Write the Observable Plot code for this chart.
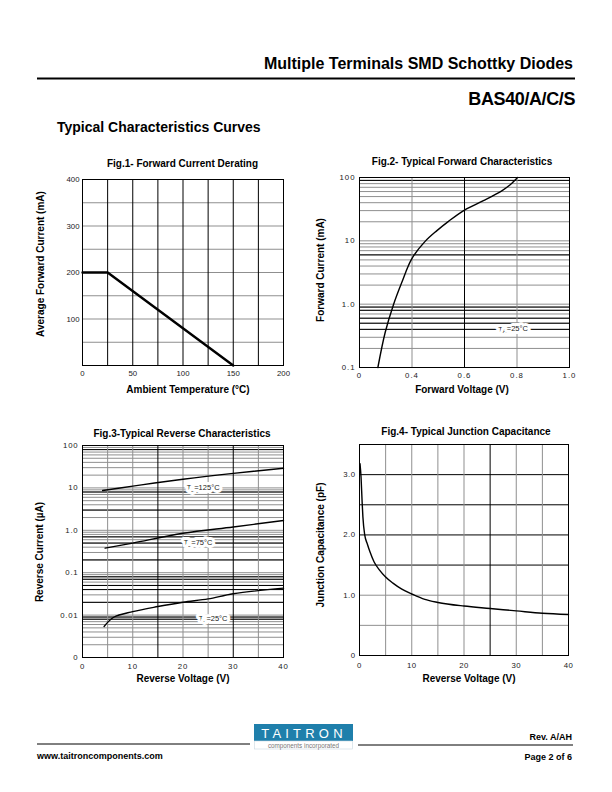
<!DOCTYPE html>
<html><head><meta charset="utf-8">
<script src="https://cdn.jsdelivr.net/npm/d3@7"></script>
<script src="https://cdn.jsdelivr.net/npm/@observablehq/plot@0.6"></script>
<style>
body{margin:0;background:#fff;}
#page{position:relative;width:612px;height:792px;overflow:hidden;background:#fff;font-family:"Liberation Sans",Arial,sans-serif;}
#page > svg{position:absolute;}
</style></head><body><div id="page"></div>
<script>
// ---------- Fig.1 Forward Current Derating ----------
const fig1Temp = [0, 25, 150];
const fig1Current = [200, 200, 0];
const fig1XTicks = [0, 50, 100, 150, 200];
const fig1YTicks = [100, 200, 300, 400];
const fig1VGrid = [25, 50, 75, 100, 125, 150, 175];
const fig1HGrid = [50, 100, 150, 200, 250, 300, 350];

// ---------- Fig.2 Typical Forward Characteristics ----------
const fig2Voltage = [0.270, 0.298, 0.330, 0.361, 0.399, 0.450, 0.495, 0.539, 0.600, 0.672, 0.742, 0.774, 0.802];
const fig2Current = [0.1, 0.36, 1.0, 2.2, 5.2, 9.8, 14.5, 20.3, 30.6, 43, 61.6, 76.7, 100];
const fig2XTicks = [0.2, 0.4, 0.6, 0.8, 1.0];
const fig2XLabels = ["0", "0.4", "0.6", "0.8", "1.0"];
const fig2YTicks = [0.1, 1, 10, 100];
const fig2YLabels = ["0.1", "1.0", "10", "100"];
const fig2VGridLight = [0.4, 0.8];
const fig2VGridDark = [0.6];
const fig2HGridDark = [90, 6, 0.9, 0.8, 0.6, 0.5, 0.4];
const fig2Notes = [{v: 0.785, i: 0.4, label: "TA=25°C"}];

// ---------- Fig.3 Typical Reverse Characteristics ----------
const fig3Voltage125 = [4, 10, 20, 30, 40];
const fig3Current125 = [8.7, 11, 16, 22, 29];
const fig3Voltage75 = [4.5, 10, 20, 30, 40];
const fig3Current75 = [0.38, 0.5, 0.85, 1.2, 1.7];
const fig3Voltage25 = [4.3, 6.2, 10, 15, 20, 25, 30, 40];
const fig3Current25 = [0.0054, 0.0089, 0.0121, 0.0159, 0.0201, 0.0241, 0.0318, 0.0433];
const fig3XTicks = [0, 10, 20, 30, 40];
const fig3YTicks = [0.001, 0.01, 0.1, 1, 10, 100];
const fig3YLabels = ["0", "0.01", "0.1", "1.0", "10", "100"];
const fig3VGridLight = [5, 10, 20, 25, 35];
const fig3VGridDark = [15, 30];
const fig3HGridDark = [80, 8, 3, 0.7, 0.5, 0.2, 0.08, 0.07, 0.05, 0.04, 0.02, 0.009, 0.008];
const fig3Notes = [
  {v: 24, i: 10, label: "TJ=125°C"},
  {v: 23, i: 0.5, label: "TJ=75°C"},
  {v: 26, i: 0.0082, label: "TJ=25°C"}
];

// ---------- Fig.4 Typical Junction Capacitance ----------
const fig4Voltage = [0.1, 0.3, 0.5, 0.65, 1.0, 1.5, 2.0, 2.8, 3.8, 4.9, 6.4, 8.1, 10, 12.5, 15, 20, 25, 30, 35, 40];
const fig4Cap = [3.18, 2.95, 2.55, 2.3, 2.0, 1.85, 1.72, 1.55, 1.42, 1.31, 1.2, 1.1, 1.02, 0.93, 0.88, 0.82, 0.78, 0.74, 0.70, 0.68];
const fig4XTicks = [0, 10, 20, 30, 40];
const fig4YTicks = [0, 1, 2, 3];
const fig4YLabels = ["0", "1.0", "2.0", "3.0"];
const fig4VGridLight = [5, 10, 15, 20, 30, 35];
const fig4VGridDark = [25];
const fig4HGridLight = [0.5, 1.0];
const fig4HGridDark = [1.5, 2.0, 2.5, 3.0];

// ---------- helpers ----------
const FONT = '"Liberation Sans", Arial, Helvetica, sans-serif';
const GRAY = "#8f8f8f";
const TICK = "#222";
const TS = 7.8; // tick label size
const page = document.getElementById("page");
const zip = (xs, ys) => xs.map((x, k) => ({x, y: ys[k]}));
const lab = (ticks, labels) => d => labels[ticks.indexOf(d)];

function place(svg, left, top) {
  svg.style.left = left + "px";
  svg.style.top = top + "px";
  page.appendChild(svg);
}
function subscripts(svg) {
  d3.select(svg).selectAll("text").each(function () {
    const m = this.textContent.match(/^T([AJ])(=.*)$/);
    if (!m) return;
    const s = d3.select(this);
    s.text(null);
    s.append("tspan").text("T");
    s.append("tspan").attr("font-size", 6).attr("dy", "0.2em").text(m[1]);
    s.append("tspan").attr("dy", "-0.2em").text(m[2]);
  });
}
function spaced(svg, ls) {
  d3.select(svg).selectAll("g[aria-label='x-axis tick label'] text, g[aria-label='y-axis tick label'] text")
    .attr("letter-spacing", ls);
}
const M = {marginLeft: 30, marginTop: 6, marginRight: 10, marginBottom: 20};
const style = {fontFamily: FONT, background: "none", overflow: "visible", color: "#000"};

// ---------- page decorations ----------
const deco = d3.create("svg").attr("width", 612).attr("height", 792).style("left", "0px").style("top", "0px");
function txt(x, y, s, o = {}) {
  const t = deco.append("text").attr("x", x).attr("y", y).text(s)
    .attr("font-family", FONT).attr("font-size", o.size || 10)
    .attr("font-weight", o.weight || "bold").attr("fill", o.fill || "#000")
    .attr("text-anchor", o.anchor || "middle");
  if (o.rotate) t.attr("transform", `rotate(-90 ${x} ${y})`);
  if (o.ls) t.attr("letter-spacing", o.ls);
  return t;
}
txt(573, 69, "Multiple Terminals SMD Schottky Diodes", {size: 16, anchor: "end"});
deco.append("line").attr("x1", 37).attr("x2", 575).attr("y1", 78.5).attr("y2", 78.5).attr("stroke", "#000").attr("stroke-width", 2.2);
txt(575, 105, "BAS40/A/C/S", {size: 18, anchor: "end", ls: -0.4});
txt(57, 132, "Typical Characteristics Curves", {size: 14, anchor: "start"});

// figure titles & axis labels
txt(182.5, 167, "Fig.1- Forward Current Derating");
txt(188, 392.5, "Ambient Temperature (°C)");
txt(43.5, 264, "Average Forward Current (mA)", {rotate: true});

txt(462, 165, "Fig.2- Typical Forward Characteristics");
txt(462, 392.5, "Forward Voltage (V)");
txt(323.5, 270, "Forward Current (mA)", {rotate: true});

txt(182, 437, "Fig.3-Typical Reverse Characteristics");
txt(183, 681.5, "Reverse Voltage (V)");
txt(43, 552, "Reverse Current (µA)", {rotate: true});

txt(466, 434.5, "Fig.4- Typical Junction Capacitance");
txt(469, 681.5, "Reverse Voltage (V)");
txt(323.5, 545, "Junction Capacitance (pF)", {rotate: true});

// footer
deco.append("line").attr("x1", 37).attr("x2", 250).attr("y1", 744).attr("y2", 744).attr("stroke", "#000").attr("stroke-width", 1);
deco.append("line").attr("x1", 358).attr("x2", 573).attr("y1", 745).attr("y2", 745).attr("stroke", "#000").attr("stroke-width", 1);
deco.append("rect").attr("x", 254).attr("y", 724).attr("width", 99).attr("height", 17).attr("fill", "#1f7fab");
deco.append("rect").attr("x", 254.5).attr("y", 741).attr("width", 98).attr("height", 8).attr("fill", "#fff").attr("stroke", "#c8d8e0").attr("stroke-width", 0.6);
txt(304, 737.5, "TAITRON", {size: 13, weight: "normal", fill: "#fff", ls: 4.2});
txt(303.5, 747.5, "components incorporated", {size: 6.3, weight: "normal", fill: "#777"});
txt(37, 759, "www.taitroncomponents.com", {size: 9, anchor: "start"});
txt(572, 740, "Rev. A/AH", {size: 9, anchor: "end"});
txt(572, 760, "Page 2 of 6", {size: 9, anchor: "end"});
page.appendChild(deco.node());

const ax = (o) => ({tickSize: 0, fontSize: TS, color: TICK, label: null, ...o});

// ---------- Fig.1 ----------
{
  const svg = Plot.plot({
    ...M, width: 30 + 201 + 10, height: 6 + 186 + 20, style,
    x: {domain: [0, 200]}, y: {domain: [0, 400]},
    marks: [
      Plot.ruleY(fig1HGrid, {stroke: GRAY}),
      Plot.ruleX(fig1VGrid, {stroke: "#000"}),
      Plot.frame({stroke: "#000"}),
      Plot.line(zip(fig1Temp, fig1Current), {x: "x", y: "y", strokeWidth: 2.4}),
      Plot.axisX(ax({ticks: fig1XTicks, tickPadding: 5})),
      Plot.axisY(ax({ticks: fig1YTicks, tickPadding: 3}))
    ]
  });
  place(svg, 82 - 30, 179 - 6);
}

// ---------- Fig.2 ----------
{
  const svg = Plot.plot({
    ...M, width: 30 + 210 + 10, height: 6 + 190 + 20, style,
    x: {domain: [0.2, 1.0]}, y: {type: "log", domain: [0.1, 100]},
    marks: [
      Plot.gridY({ticks: 30, stroke: GRAY, strokeOpacity: 1}),
      Plot.ruleY(fig2HGridDark, {stroke: "#000"}),
      Plot.ruleX(fig2VGridLight, {stroke: GRAY}),
      Plot.ruleX(fig2VGridDark, {stroke: "#000"}),
      Plot.frame({stroke: "#000"}),
      Plot.line(zip(fig2Voltage, fig2Current), {x: "x", y: "y", curve: "catmull-rom", strokeWidth: 1.4}),
      Plot.text(fig2Notes, {x: "v", y: "i", text: "label", fontSize: 7.5, fill: TICK, stroke: "white", strokeWidth: 6}),
      Plot.axisX(ax({ticks: fig2XTicks, tickFormat: lab(fig2XTicks, fig2XLabels), tickPadding: 5})),
      Plot.axisY(ax({ticks: fig2YTicks, tickFormat: lab(fig2YTicks, fig2YLabels), tickPadding: 4}))
    ]
  });
  subscripts(svg); spaced(svg, 1);
  place(svg, 359 - 30, 177 - 6);
}

// ---------- Fig.3 ----------
{
  const svg = Plot.plot({
    ...M, width: 30 + 201 + 10, height: 6 + 212 + 20, style,
    x: {domain: [0, 40]}, y: {type: "log", domain: [0.001, 100]},
    marks: [
      Plot.gridY({ticks: 40, stroke: GRAY, strokeOpacity: 1}),
      Plot.ruleY(fig3HGridDark, {stroke: "#000"}),
      Plot.ruleX(fig3VGridLight, {stroke: GRAY}),
      Plot.ruleX(fig3VGridDark, {stroke: "#000"}),
      Plot.frame({stroke: "#000"}),
      Plot.line(zip(fig3Voltage125, fig3Current125), {x: "x", y: "y", curve: "catmull-rom", strokeWidth: 1.4}),
      Plot.line(zip(fig3Voltage75, fig3Current75), {x: "x", y: "y", curve: "catmull-rom", strokeWidth: 1.4}),
      Plot.line(zip(fig3Voltage25, fig3Current25), {x: "x", y: "y", curve: "catmull-rom", strokeWidth: 1.4}),
      Plot.text(fig3Notes, {x: "v", y: "i", text: "label", fontSize: 7.5, fill: TICK, stroke: "white", strokeWidth: 6}),
      Plot.axisX(ax({ticks: fig3XTicks, tickPadding: 6})),
      Plot.axisY(ax({ticks: fig3YTicks, tickFormat: lab(fig3YTicks, fig3YLabels), tickPadding: 4}))
    ]
  });
  subscripts(svg); spaced(svg, 0.8);
  place(svg, 82 - 30, 445 - 6);
}

// ---------- Fig.4 ----------
{
  const svg = Plot.plot({
    ...M, width: 30 + 209 + 10, height: 6 + 211 + 20, style,
    x: {domain: [0, 40]}, y: {domain: [0, 3.5]},
    marks: [
      Plot.ruleY(fig4HGridLight, {stroke: GRAY}),
      Plot.ruleY(fig4HGridDark, {stroke: "#000"}),
      Plot.ruleX(fig4VGridLight, {stroke: GRAY}),
      Plot.ruleX(fig4VGridDark, {stroke: "#000"}),
      Plot.frame({stroke: "#000"}),
      Plot.line(zip(fig4Voltage, fig4Cap), {x: "x", y: "y", curve: "monotone-x", strokeWidth: 1.4}),
      Plot.axisX(ax({ticks: fig4XTicks, tickPadding: 7})),
      Plot.axisY(ax({ticks: fig4YTicks, tickFormat: lab(fig4YTicks, fig4YLabels), tickPadding: 4}))
    ]
  });
  spaced(svg, 0.5);
  place(svg, 359 - 30, 444 - 6);
}
</script></body></html>
